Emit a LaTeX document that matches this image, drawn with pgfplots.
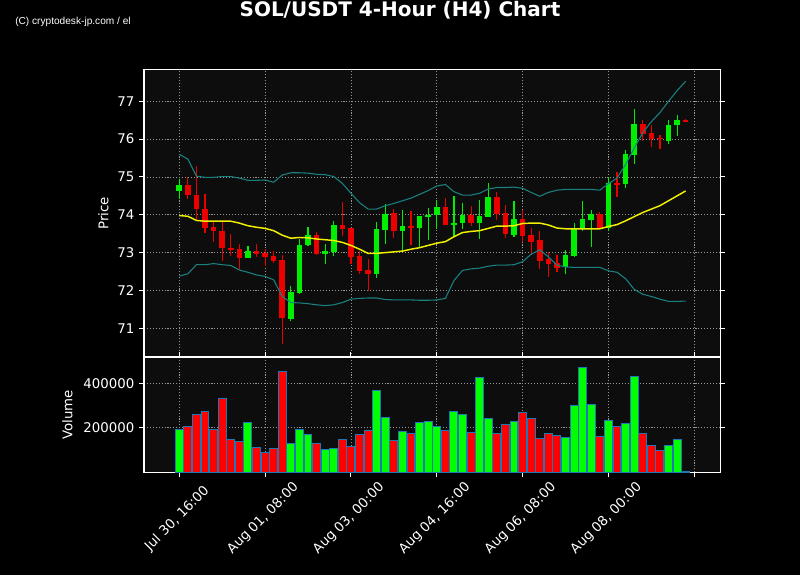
\documentclass[border=0pt]{standalone}
\usepackage{pgfplots}
\pgfplotsset{compat=1.18}
\usepackage{pgfplotstable}
\usepackage{fontspec}
\setmainfont{DejaVu Sans}
\newfontfamily\wmfont{Liberation Sans}
\definecolor{axbg}{RGB}{13,13,13}
\definecolor{candG}{RGB}{0,238,0}
\definecolor{candR}{RGB}{235,0,0}
\definecolor{volG}{RGB}{0,255,0}
\definecolor{volR}{RGB}{255,0,0}
\definecolor{volEdge}{RGB}{31,119,180}
\definecolor{band}{RGB}{26,128,128}
\definecolor{sma}{RGB}{240,240,0}
\definecolor{gridc}{RGB}{150,150,150}

% x lo hi bot top
\pgfplotstableread{
x lo hi bot top
0 74.43 74.95 74.64 74.79
8 72.86 73.17 72.87 73.04
13 71.20 72.12 71.25 71.97
14 71.91 73.36 71.94 73.20
15 73.18 73.68 73.19 73.47
17 72.69 73.22 72.97 73.04
18 72.92 73.83 73.02 73.73
23 72.32 73.82 72.44 73.63
24 73.22 74.29 73.61 74.02
26 73.04 74.12 73.56 73.70
28 73.16 73.97 73.66 73.97
29 73.33 74.18 73.95 74.00
30 73.62 74.39 73.99 74.21
32 73.42 74.49 73.74 73.78
33 73.62 74.30 73.79 73.99
35 73.37 74.38 73.77 73.97
36 73.93 74.83 73.95 74.47
39 73.40 74.36 73.47 73.89
45 72.43 73.06 72.62 72.94
46 72.88 73.78 72.91 73.64
47 73.57 74.36 73.63 73.89
48 73.16 74.13 73.86 74.02
50 73.56 75.01 73.66 74.84
52 74.70 75.71 74.82 75.61
53 75.33 76.79 75.58 76.40
57 75.86 76.50 75.96 76.37
58 76.09 76.64 76.36 76.51
}\greenc

\pgfplotstableread{
x lo hi bot top
1 74.41 74.99 74.51 74.79
2 73.86 75.29 74.14 74.52
3 73.51 74.54 73.66 74.15
4 73.29 73.80 73.56 73.68
5 72.79 73.82 73.11 73.57
6 72.92 73.49 73.08 73.12
7 72.56 73.23 72.87 73.10
9 72.88 73.23 72.97 73.05
10 72.65 73.09 72.89 72.99
11 72.72 73.05 72.78 72.92
12 70.59 72.94 71.28 72.81
16 72.94 73.54 72.97 73.47
19 73.45 74.33 73.63 73.73
20 72.70 73.66 72.89 73.66
21 72.43 73.04 72.52 72.92
22 71.99 72.82 72.44 72.54
25 73.38 74.14 73.56 74.05
27 73.19 74.10 73.66 73.71
31 73.74 74.44 73.74 74.21
34 73.71 74.22 73.77 73.99
37 73.85 74.60 74.03 74.47
38 73.38 74.25 73.49 74.05
40 73.27 74.12 73.44 73.89
41 72.93 73.64 73.29 73.47
42 72.57 73.56 72.78 73.33
43 72.35 73.02 72.71 72.82
44 72.49 72.93 72.60 72.72
49 73.63 74.08 73.64 74.02
51 74.48 75.14 74.80 74.84
54 75.95 76.51 76.14 76.40
55 75.78 76.37 76.00 76.16
56 75.73 76.10 75.99 76.03
59 76.44 76.53 76.44 76.51
}\redc

\pgfplotsset{
  darkax/.style={
    scale only axis, anchor=south west,
    xmin=-4.11, xmax=63.03,
    axis background/.style={fill=axbg},
    axis line style={white, line width=0.8pt},
    tick align=outside, major tick length=3.7pt,
    tick style={white, line width=0.8pt},
    grid=major,
    grid style={gridc, line width=0.6pt, dash pattern=on 0.8pt off 1.4pt},
    ticklabel style={white, font=\fontsize{10}{12}\selectfont},
    /pgf/number format/assume math mode=true,
    xtick={0,10,...,60},
    scaled y ticks=false,
    yticklabel style={/pgf/number format/fixed, /pgf/number format/1000 sep={}},
  },
  nomark/.style={only marks, mark=*, mark size=0pt, mark options={draw=none, fill=none}, forget plot},
}

\begin{document}
\begin{tikzpicture}
\path[fill=black, use as bounding box] (0,0) rectangle (600pt,431.25pt);

\begin{axis}[darkax,
  at={(108pt,163.5pt)}, width=432.2pt, height=215.8pt,
  ymin=70.241, ymax=77.846,
  ytick={71,72,...,77},
  xticklabels={}, xtick style={draw=none},
  ylabel={Price},
  every axis y label/.style={at={(axis description cs:0,0.5)}, xshift=-30.5pt, rotate=90, anchor=center, white, font=\fontsize{10}{12}\selectfont},
]
% wicks
\addplot[nomark,
  error bars/.cd, y dir=plus, y explicit, error mark=none,
  error bar style={line width=0.9pt, candG}]
  table[x=x, y=lo, y error expr=\thisrow{hi}-\thisrow{lo}] {\greenc};
\addplot[nomark,
  error bars/.cd, y dir=plus, y explicit, error mark=none,
  error bar style={line width=0.9pt, candR}]
  table[x=x, y=lo, y error expr=\thisrow{hi}-\thisrow{lo}] {\redc};
% bodies
\addplot[nomark,
  error bars/.cd, y dir=plus, y explicit, error mark=none,
  error bar style={line width=4.2pt, candG}]
  table[x=x, y=bot, y error expr=\thisrow{top}-\thisrow{bot}] {\greenc};
\addplot[nomark,
  error bars/.cd, y dir=plus, y explicit, error mark=none,
  error bar style={line width=4.2pt, candR}]
  table[x=x, y=bot, y error expr=\thisrow{top}-\thisrow{bot}] {\redc};
% bands
\addplot[band, line width=0.8pt, mark=none] coordinates {
(0,75.60)(1,75.47)(2,75.02)(3,74.99)(4,74.99)(5,75.01)(6,75.01)(7,74.97)(8,74.91)(9,74.91)
(10,74.92)(11,74.86)(12,75.05)(13,75.11)(14,75.11)(15,75.10)(16,75.07)(17,75.06)(18,75.01)(19,74.83)
(20,74.57)(21,74.32)(22,74.15)(23,74.15)(24,74.24)(25,74.30)(26,74.37)(27,74.44)(28,74.54)(29,74.64)
(30,74.76)(31,74.80)(32,74.61)(33,74.52)(34,74.52)(35,74.57)(36,74.68)(37,74.72)(38,74.72)(39,74.73)
(40,74.70)(41,74.59)(42,74.49)(43,74.59)(44,74.65)(45,74.67)(46,74.67)(47,74.67)(48,74.67)(49,74.65)
(50,74.82)(51,74.97)(52,75.33)(53,75.76)(54,76.17)(55,76.46)(56,76.70)(57,77.00)(58,77.28)(59,77.53)};
\addplot[band, line width=0.8pt, mark=none] coordinates {
(0,72.38)(1,72.44)(2,72.68)(3,72.68)(4,72.71)(5,72.68)(6,72.66)(7,72.54)(8,72.48)(9,72.41)
(10,72.37)(11,72.28)(12,71.84)(13,71.68)(14,71.67)(15,71.65)(16,71.62)(17,71.60)(18,71.62)(19,71.68)
(20,71.77)(21,71.79)(22,71.80)(23,71.80)(24,71.76)(25,71.75)(26,71.75)(27,71.75)(28,71.74)(29,71.74)
(30,71.75)(31,71.79)(32,72.26)(33,72.53)(34,72.57)(35,72.59)(36,72.64)(37,72.67)(38,72.67)(39,72.68)
(40,72.76)(41,72.96)(42,73.07)(43,72.89)(44,72.67)(45,72.62)(46,72.61)(47,72.61)(48,72.61)(49,72.61)
(50,72.52)(51,72.48)(52,72.31)(53,72.03)(54,71.90)(55,71.84)(56,71.77)(57,71.71)(58,71.71)(59,71.72)};
\addplot[sma, line width=1.1pt, mark=none] coordinates {
(0,73.98)(1,73.96)(2,73.85)(3,73.83)(4,73.83)(5,73.83)(6,73.83)(7,73.78)(8,73.71)(9,73.67)
(10,73.64)(11,73.58)(12,73.46)(13,73.38)(14,73.40)(15,73.39)(16,73.36)(17,73.34)(18,73.32)(19,73.27)
(20,73.19)(21,73.09)(22,72.98)(23,72.98)(24,73.00)(25,73.02)(26,73.04)(27,73.09)(28,73.13)(29,73.19)
(30,73.25)(31,73.29)(32,73.42)(33,73.53)(34,73.56)(35,73.58)(36,73.64)(37,73.70)(38,73.70)(39,73.71)
(40,73.77)(41,73.78)(42,73.78)(43,73.73)(44,73.65)(45,73.63)(46,73.63)(47,73.63)(48,73.63)(49,73.63)
(50,73.69)(51,73.74)(52,73.84)(53,73.95)(54,74.06)(55,74.15)(56,74.24)(57,74.37)(58,74.50)(59,74.63)};
\end{axis}

\begin{axis}[darkax,
  at={(108pt,77pt)}, width=432.2pt, height=86.5pt,
  ymin=0, ymax=518000,
  ytick={200000,400000},
  xticklabels={{Jul 30, 16:00},{Aug 01, 08:00},{Aug 03, 00:00},{Aug 04, 16:00},{Aug 06, 08:00},{Aug 08, 00:00},{}},
  xticklabel style={yshift=-31pt, xshift=-1.5pt, rotate=45, anchor=center},
  ylabel={Volume},
  every axis y label/.style={at={(axis description cs:0,0.5)}, xshift=-57.5pt, rotate=90, anchor=center, white, font=\fontsize{10}{12}\selectfont},
]
\addplot[ybar, bar width=0.92, bar shift=0pt, fill=volG, draw=volEdge, line width=0.75pt] coordinates {
(0,191000)(8,222600)(13,127800)(14,191000)(15,168400)(17,100800)(18,105300)(23,366900)(24,245100)
(26,182000)(28,222600)(29,227100)(30,204500)(32,272200)(33,258600)(35,425600)(36,240600)(39,227100)
(45,154900)(46,299200)(47,470700)(48,303800)(50,231600)(52,218000)(53,430100)(57,118800)(58,145900)};
\addplot[ybar, bar width=0.92, bar shift=0pt, fill=volR, draw=volEdge, line width=0.75pt] coordinates {
(1,204500)(2,258600)(3,272200)(4,192500)(5,330800)(6,145900)(7,136800)(9,112800)(10,87200)(11,105300)
(12,452600)(16,127800)(19,145900)(20,114300)(21,168400)(22,186500)(25,141400)(27,172900)(31,186500)
(34,177400)(37,174400)(38,213500)(40,267700)(41,240600)(42,150400)(43,172900)(44,163900)(49,159400)
(51,204500)(54,172900)(55,118800)(56,96200)(59,3000)};
\end{axis}

\node[anchor=base, white, inner sep=0pt, font=\fontsize{15}{18}\selectfont\bfseries] at (300pt,418.7pt) {SOL/USDT 4-Hour (H4) Chart};
\node[anchor=base west, white, inner sep=0pt, font=\wmfont\fontsize{7.6}{9}\selectfont] at (11.25pt,412.5pt) {(C) cryptodesk-jp.com / el};
\end{tikzpicture}
\end{document}
